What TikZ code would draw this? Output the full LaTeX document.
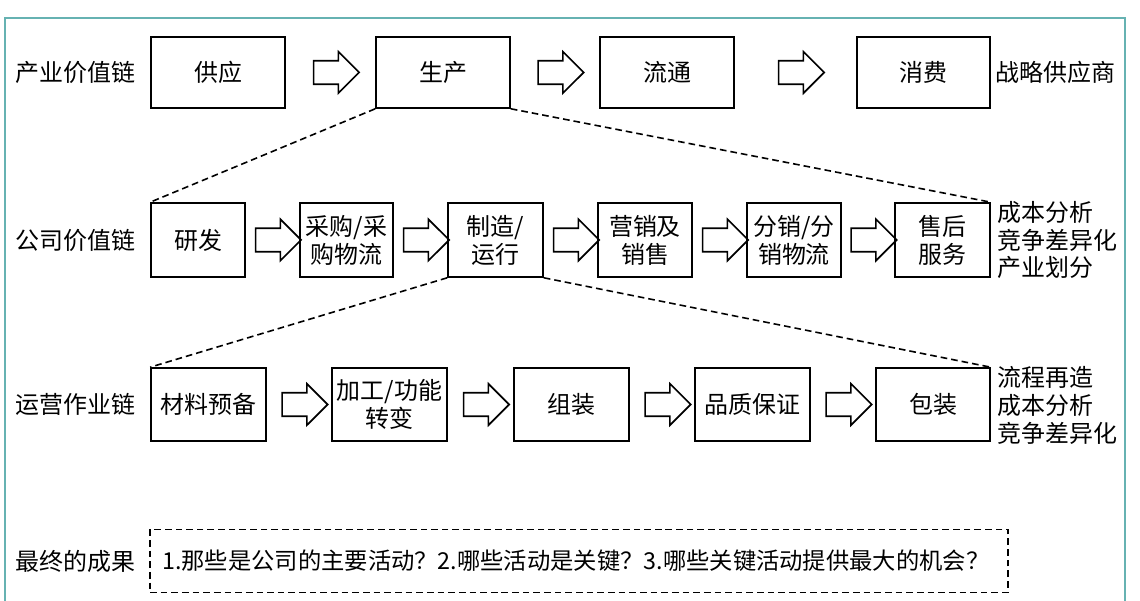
\documentclass[tikz,border=0pt]{standalone}
\usepackage{fontspec}
\newfontfamily\cjk{Noto Sans CJK SC}
\usetikzlibrary{shapes.arrows,calc}
\begin{document}
\begin{tikzpicture}[x=0.0264cm,y=-0.0264cm,
  box/.style={draw,line width=1.2pt,inner sep=0,align=center},
  lbl/.style={font=\cjk\fontsize{18}{21}\selectfont,align=center,inner sep=0},
  side/.style={font=\cjk\fontsize{18}{21}\selectfont,align=left,inner sep=0},
  blk/.style={draw,line width=1.2pt,single arrow,minimum height=1.2cm,minimum width=1.05cm,inner ysep=0.29cm,inner xsep=0,single arrow head extend=0.235cm},
  dsh/.style={dashed,line width=1.2pt,dash pattern=on 5pt off 3pt}]
\useasboundingbox (0,0) rectangle (1140,601);
\draw[teal!60,line width=1pt] (5,601) -- (5,18) -- (1125,18) -- (1125,601);
\newcommand\bx[5]{\node[box,minimum width={(#3-#2)*0.0264cm},minimum height={(#5-#4)*0.0264cm}] (#1) at ({(#2+#3)/2},{(#4+#5)/2}) {};}
% row1
\bx{a1}{151}{285}{37}{108}\bx{a2}{376}{510}{37}{108}\bx{a3}{600}{734}{37}{108}\bx{a4}{857}{990}{37}{108}
\node[lbl] at (a1) {供应};\node[lbl] at (a2) {生产};\node[lbl] at (a3) {流通};\node[lbl] at (a4) {消费};
\node[side,anchor=west] (l1) at (15,72) {产业价值链};
\node[side,anchor=west] (r1) at (995,72) {战略供应商};
% row2
\bx{b1}{151}{245}{203}{277}\bx{b2}{300}{393}{203}{277}\bx{b3}{448}{543}{203}{277}\bx{b4}{598}{692}{203}{277}\bx{b5}{747}{841}{203}{277}\bx{b6}{895}{990}{203}{277}
\node[lbl] at (b1) {研发};
\node[lbl] at (b2) {采购/采\\购物流};
\node[lbl] at (b3) {制造/\\运行};
\node[lbl] at (b4) {营销及\\销售};
\node[lbl] at (b5) {分销/分\\销物流};
\node[lbl] at (b6) {售后\\服务};
\node[side,anchor=west] (l2) at (15,240) {公司价值链};
\node[side,anchor=west,font=\cjk\fontsize{18}{21}\selectfont] (r2) at (997,240) {成本分析\\竞争差异化\\产业划分};
% row3
\bx{c1}{151}{266}{368}{441}\bx{c2}{332}{447}{368}{441}\bx{c3}{514}{629}{368}{441}\bx{c4}{695}{810}{368}{441}\bx{c5}{876}{990}{368}{441}
\node[lbl] at (c1) {材料预备};
\node[lbl] at (c2) {加工/功能\\转变};
\node[lbl] at (c3) {组装};
\node[lbl] at (c4) {品质保证};
\node[lbl] at (c5) {包装};
\node[side,anchor=west] (l3) at (15,404) {运营作业链};
\node[side,anchor=west,font=\cjk\fontsize{18}{21}\selectfont] (r3) at (997,405) {流程再造\\成本分析\\竞争差异化};
% arrows
\foreach \p/\q in {a1/a2,a2/a3,a3/a4,b1/b2,b2/b3,b3/b4,b4/b5,b5/b6,c1/c2,c2/c3,c3/c4,c4/c5}
  \node[blk] at ($(\p.east)!0.5!(\q.west)$) {};
% dashed
\draw[dsh] (a2.south west) -- (b1.north west);
\draw[dsh] (a2.south east) -- (b6.north east);
\draw[dsh] (b3.south west) -- (c1.north west);
\draw[dsh] (b3.south east) -- (c5.north east);
% row4
\node[draw,dsh,minimum width={858*0.0264cm},minimum height={63*0.0264cm},inner sep=0] (d) at (579,561) {};
\node[side,anchor=west,font=\cjk\fontsize{17.5}{21}\selectfont] at (162,561) {1.那些是公司的主要活动？2.哪些活动是关键？3.哪些关键活动提供最大的机会？};
\node[side,anchor=west] (l4) at (15,561) {最终的成果};
\end{tikzpicture}
\end{document}
